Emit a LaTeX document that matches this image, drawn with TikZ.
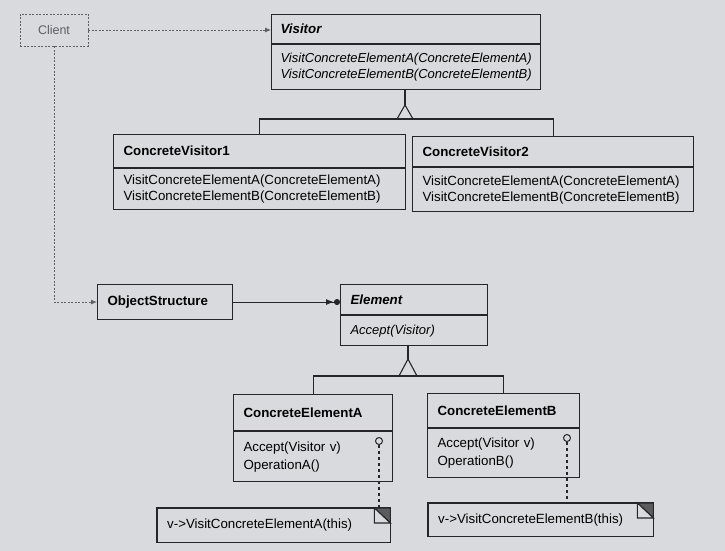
\documentclass[tikz,border=0pt]{standalone}
\usepackage{fontspec}
\setmainfont{Liberation Sans}
\usepackage{tikz}
\usetikzlibrary{arrows.meta,calc,positioning}
\definecolor{paper}{RGB}{216,218,221}
\definecolor{ink}{RGB}{38,38,42}
\definecolor{faint}{RGB}{95,96,102}
\hyphenpenalty=10000
\tikzstyle{hd} = [rectangle, draw=ink, line width=1.1pt, anchor=north west, align=left, inner xsep=10pt, inner ysep=2pt, font=\fontsize{13.3}{16}\selectfont\bfseries]
\tikzstyle{bd} = [rectangle, draw=ink, line width=1.1pt, anchor=north west, align=left, inner xsep=10pt, inner ysep=2pt, font=\fontsize{13.3}{16}\selectfont]
\tikzstyle{bdi} = [bd, font=\fontsize{13}{16}\selectfont\itshape]
\tikzstyle{nt} = [rectangle, anchor=north west, align=left, inner xsep=10pt, inner ysep=2pt, font=\fontsize{13.3}{16}\selectfont]
\tikzstyle{cl} = [rectangle, draw=faint, text=faint, line width=0.8pt, dash pattern=on 2pt off 1.5pt, minimum width=68pt, minimum height=32pt, font=\fontsize{12.5}{14}\selectfont]
\tikzstyle{lolli} = [circle, draw=ink, fill=paper, line width=1pt, inner sep=0pt, minimum size=7pt]
\tikzstyle{link} = [ink, line width=1.1pt]
\tikzstyle{dep} = [faint, line width=0.8pt, dash pattern=on 2pt off 1.5pt]
\tikzstyle{anno} = [ink, line width=1.1pt, dash pattern=on 3pt off 3pt]

\begin{document}
\begin{tikzpicture}
		[
			x=1pt, y=-1pt,
			fold/.style={ink, line width=1.1pt},
		]
		\fill[paper] (0,0) rectangle (725,551);

		\node[cl] (client) at (54,30) {Client};

		\node[hd, text width=251pt, inner xsep=9pt, minimum height=29pt] (visitor) at (271,14) {\itshape Visitor};
		\node[bdi, text width=251pt, inner xsep=9pt, minimum height=45pt] (visitorops) at (visitor.south west)
			{VisitConcreteElementA(ConcreteElementA)\\VisitConcreteElementB(ConcreteElementB)};

		\node[hd, text width=272pt, minimum height=33pt] (cv1) at (113,134) {ConcreteVisitor1};
		\node[bd, text width=272pt, minimum height=41pt] (cv1ops) at (cv1.south west)
			{VisitConcreteElementA(ConcreteElementA)\\VisitConcreteElementB(ConcreteElementB)};
		\node[hd, text width=261pt, minimum height=30pt] (cv2) at (412,136) {ConcreteVisitor2};
		\node[bd, text width=261pt, minimum height=44pt] (cv2ops) at (cv2.south west)
			{VisitConcreteElementA(ConcreteElementA)\\VisitConcreteElementB(ConcreteElementB)};

		\node[hd, text width=115pt, minimum height=35pt] (objstr) at (97,284) {ObjectStructure};

		\node[hd, text width=127pt, minimum height=30pt] (element) at (340,284) {\itshape Element};
		\node[bdi, text width=127pt, minimum height=30pt] (elementops) at (element.south west) {Accept(Visitor)};

		\node[hd, text width=139pt, minimum height=36pt] (cea) at (233,394) {ConcreteElementA};
		\node[bd, text width=139pt, minimum height=50pt] (ceaops) at (cea.south west) {Accept(Visitor v)\\[2pt]OperationA()};
		\node[hd, text width=132pt, minimum height=34pt] (ceb) at (427,393) {ConcreteElementB};
		\node[bd, text width=132pt, minimum height=49pt] (cebops) at (ceb.south west) {Accept(Visitor v)\\[2pt]OperationB()};

		\node[nt, text width=213pt, minimum height=34pt] (notea) at (157,508) {v-{}>VisitConcreteElementA(this)};
		\node[nt, text width=205pt, minimum height=33pt] (noteb) at (428,503) {v-{}>VisitConcreteElementB(this)};

		\node[lolli] (pa) at (379,441) {};
		\node[lolli] (pb) at (567,438) {};

		\coordinate (vtri) at (405,105);
		\coordinate (vbar) at (405,119);
		\coordinate (etri) at (408,359);
		\coordinate (ebar) at (408,376);

		% client
		\draw[dep, -{Latex[length=6pt,width=5pt]}] (client.east) -- (client.east -| visitor.west);
		\draw[dep, -{Latex[length=6pt,width=5pt]}] (client.south) |- (objstr.west);

		% object structure
		\draw[link, -{Latex[length=8pt,width=6pt]Circle[length=6pt]}] (objstr.east) -- (objstr.east -| element.west);

		% visitors
		\draw[link] (visitorops.south -| vtri) -- (vtri);
		\draw[link, fill=paper] (vtri) -- ++(-8,14) -- ++(16,0) -- cycle;
		\draw[link] (cv1.north) -- (cv1.north |- vbar) -- (cv2.north |- vbar) -- (cv2.north);

		% elements
		\draw[link] (elementops.south -| etri) -- (etri);
		\draw[link, fill=paper] (etri) -- ++(-9,17) -- ++(18,0) -- cycle;
		\draw[link] (cea.north) -- (cea.north |- ebar) -- (ceb.north |- ebar) -- (ceb.north);

		% notes
		\foreach \nn/\pp in {notea/pa, noteb/pb} {
			\draw[anno] (\pp.south) -- (\pp |- \nn.north);
			\draw[fold] (\nn.north west) rectangle (\nn.south east);
			\draw[fold, fill=ink!75] ($(\nn.north east)+(-16,0)$) -- (\nn.north east) -- ($(\nn.north east)+(0,15)$) -- cycle;
			\draw[fold, fill=paper] ($(\nn.north east)+(-16,0)$) -- ($(\nn.north east)+(-16,15)$) -- ($(\nn.north east)+(0,15)$) -- cycle;
		}
	\end{tikzpicture}
\end{document}
